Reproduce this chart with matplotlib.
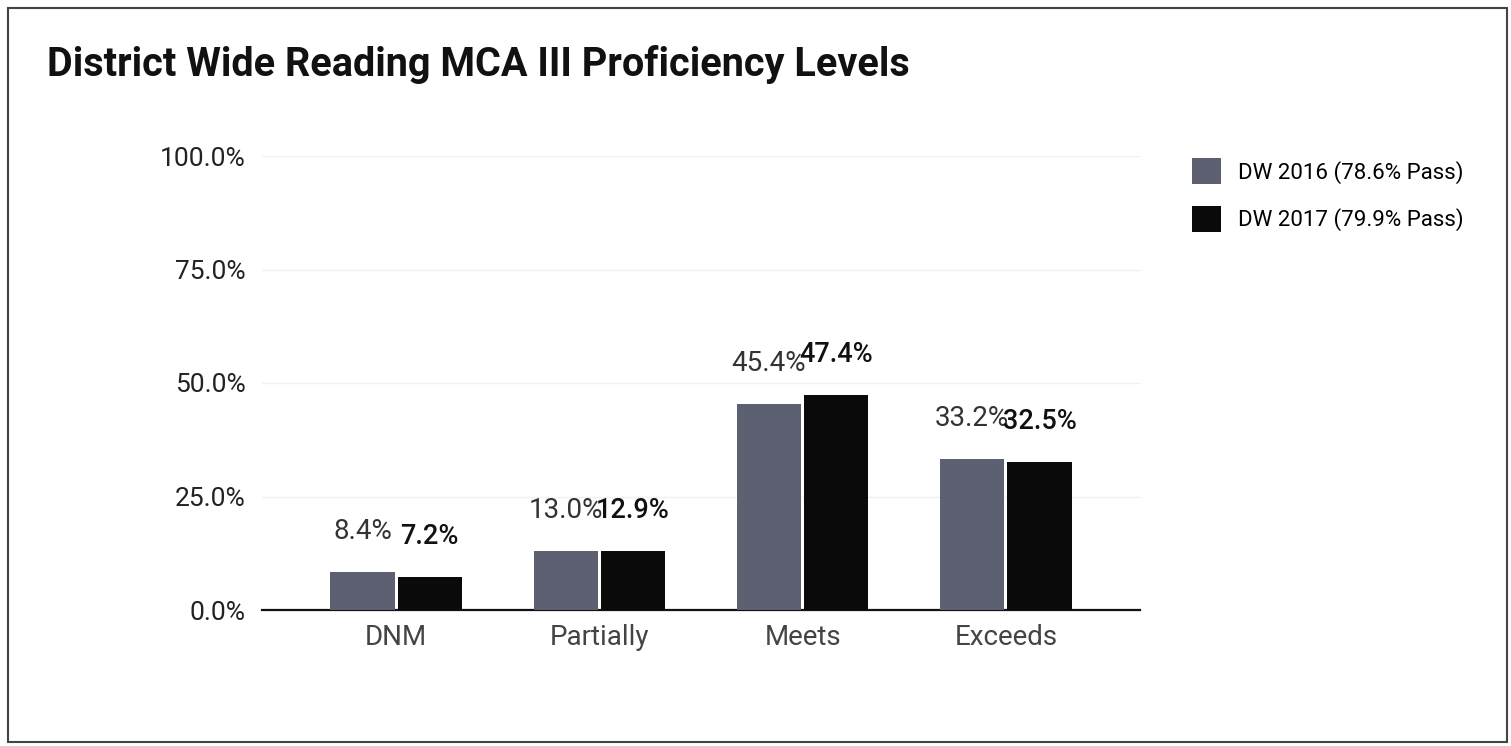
import numpy as np
import matplotlib
matplotlib.use('Agg')
import matplotlib.pyplot as plt
from matplotlib.patches import Rectangle

plt.rcParams['font.family'] = ['Roboto', 'DejaVu Sans']

categories = ['DNM', 'Partially', 'Meets', 'Exceeds']
dw2016 = [8.4, 13.0, 45.4, 33.2]
dw2017 = [7.2, 12.9, 47.4, 32.5]
series_names = ['DW 2016 (78.6% Pass)', 'DW 2017 (79.9% Pass)']
yticks = [0, 25, 50, 75, 100]

fig = plt.figure(figsize=(15.11, 7.46), dpi=100)
W, H = 1511, 746
ax = fig.add_axes([262 / W, 1 - 610 / H, (1140 - 262) / W, (610 - 156) / H])

x = np.arange(len(categories))
w = 0.315
b1 = ax.bar(x - w / 2 - 0.008, dw2016, w, color='#5d6070', label=series_names[0], zorder=3)
b2 = ax.bar(x + w / 2 + 0.008, dw2017, w, color='#0a0a0a', label=series_names[1], zorder=3)

for r, v in zip(b1, dw2016):
    ax.text(r.get_x() + r.get_width() / 2, v + 6.0, f'{v:.1f}%', ha='center', va='bottom',
            fontsize=20, color='#333333')
for r, v in zip(b2, dw2017):
    ax.text(r.get_x() + r.get_width() / 2, v + 6.0, f'{v:.1f}%', ha='center', va='bottom',
            fontsize=19.5, color='#111111', fontweight='medium')

ax.set_xlim(-0.66, 3.66)
ax.set_ylim(0, 100)
ax.set_yticks(yticks)
ax.set_yticklabels([f'{t:.1f}%' for t in yticks], fontsize=19, color='#222222')
ax.set_xticks(x)
ax.set_xticklabels(categories, fontsize=20, color='#444444')
ax.tick_params(length=0, pad=10)
ax.tick_params(axis='y', pad=12)
ax.grid(axis='y', color='#f0f0f0', linewidth=1, zorder=0)
for s in ['top', 'right', 'left']:
    ax.spines[s].set_visible(False)
ax.spines['bottom'].set_linewidth(1.6)
ax.spines['bottom'].set_color('#111111')

ax.legend(loc='upper left', bbox_to_anchor=(1172 / W, 1 - 138 / H), bbox_transform=fig.transFigure,
          frameon=False, fontsize=16, handlelength=1.3, handleheight=1.45,
          labelspacing=0.95, handletextpad=0.75)

fig.text(47 / W, 1 - 65 / H, 'District Wide Reading MCA III Proficiency Levels',
         fontsize=28.5, fontweight='bold', ha='left', va='center', color='#111111')

fig.patches.append(Rectangle((8 / W, 4 / H), (1507 - 8) / W, (738 - 4) / H,
                             transform=fig.transFigure, fill=False,
                             edgecolor='#444444', linewidth=1.5))

fig.savefig('out.png', dpi=100)
